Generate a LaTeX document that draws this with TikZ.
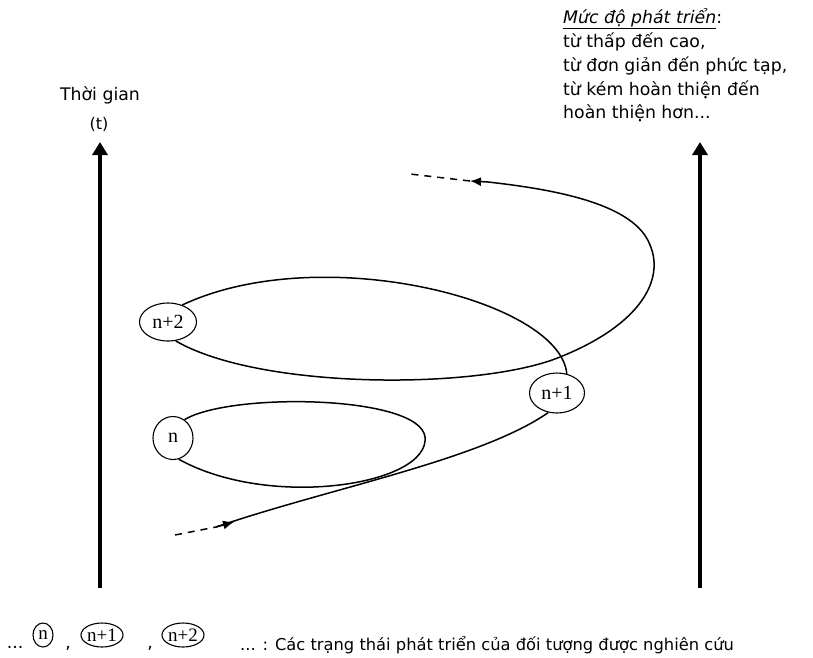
\documentclass[tikz,border=0pt]{standalone}
\usepackage{fontspec}
\setmainfont{DejaVu Sans}
\newfontfamily\serifnode{Liberation Serif}
\usetikzlibrary{shapes.geometric,arrows.meta}
\begin{document}
\begin{tikzpicture}[x=1pt,y=-1pt,
  state/.style={ellipse,draw,line width=1.1pt,inner sep=0pt,font=\serifnode\fontsize{20}{20}\selectfont},
  smallstate/.style={ellipse,draw,line width=1.1pt,inner sep=0pt,font=\serifnode\fontsize{19}{19}\selectfont},
  axis/.style={line width=4pt,-{Triangle[length=13pt,width=15pt]}},
  spiral/.style={line width=1.5pt},
  lead/.style={line width=1.5pt,dash pattern=on 7pt off 6pt},
  headarrow/.style={line width=1.5pt,-{Latex[length=11pt,width=9pt]}},
  lbl/.style={font=\fontsize{17.3}{17.3}\selectfont,inner sep=0pt}]
\useasboundingbox (0,0) rectangle (813,657);

% axes
\coordinate (lb) at (100,588);
\coordinate (lt) at (100,142);
\coordinate (rb) at (700,588);
\coordinate (rt) at (700,142);
\draw[axis] (lb) -- (lt);
\draw[axis] (rb) -- (rt);

% axis labels
\node[lbl] (time) at (100,95) {Thời gian};
\node[lbl,font=\fontsize{16}{16}\selectfont] (tvar) at (99,124) {(t)};

\node[lbl,anchor=base west] (r1) at (563,23) {\underline{\textit{Mức độ phát triển}}:};
\node[lbl,anchor=base west] (r2) at (563,47) {từ thấp đến cao,};
\node[lbl,anchor=base west] (r3) at (563,71) {từ đơn giản đến phức tạp,};
\node[lbl,anchor=base west] (r4) at (563,95) {từ kém hoàn thiện đến};
\node[lbl,anchor=base west] (r5) at (563,118) {hoàn thiện hơn...};

% state nodes
\node[state,minimum width=40pt,minimum height=43pt] (sn) at (173,438) {n};
\node[state,minimum width=55pt,minimum height=40pt] (sn1) at (557,393) {n+1};
\node[state,minimum width=57pt,minimum height=38pt] (sn2) at (168,322) {n+2};

% lower lead-in
\coordinate (d0) at (175,535);
\coordinate (h0) at (216,527);
\coordinate (h1) at (234,522);
\draw[lead] (d0) -- (h0);
\draw[headarrow] (h0) -- (h1);
\draw[spiral] (h0) .. controls (330,488) and (480,460) .. (sn1.246);

% loop through n
\coordinate (nr) at (425,437);
\draw[spiral] (sn.58) .. controls (230,392) and (420,395) .. (nr)
  .. controls (430,485) and (270,510) .. (sn.285);

% big loop through n+2
\draw[spiral] (sn1.63) .. controls (560,300) and (320,240) .. (sn2.50);
\coordinate (c1) at (560,357);
\coordinate (c2) at (650,245);
\coordinate (h2) at (488,182);
\coordinate (h3) at (470,181);
\coordinate (d1) at (410,174);
\draw[spiral] (sn2.292) .. controls (260,390) and (480,390) .. (c1)
  .. controls (640,325) and (665,280) .. (c2)
  .. controls (635,205) and (560,190) .. (h2);
\draw[headarrow] (h2) -- (h3);
\draw[lead] (h3) -- (d1);

% legend
\node[lbl,anchor=base] (e0) at (15,648) {...};
\node[smallstate,minimum width=20pt,minimum height=24pt] (ln) at (43,635) {n};
\node[lbl,anchor=base] (e1) at (68,648) {,};
\node[smallstate,minimum width=39pt,minimum height=24pt] (ln1) at (102,635) {n+1};
\node[lbl,anchor=base] (e2) at (150,648) {,};
\node[smallstate,minimum width=39pt,minimum height=24pt] (ln2) at (183,635) {n+2};
\node[lbl,anchor=base west,font=\fontsize{16.3}{16.3}\selectfont] (legtext) at (240,650) {... : Các trạng thái phát triển của đối tượng được nghiên cứu};
\end{tikzpicture}
\end{document}
